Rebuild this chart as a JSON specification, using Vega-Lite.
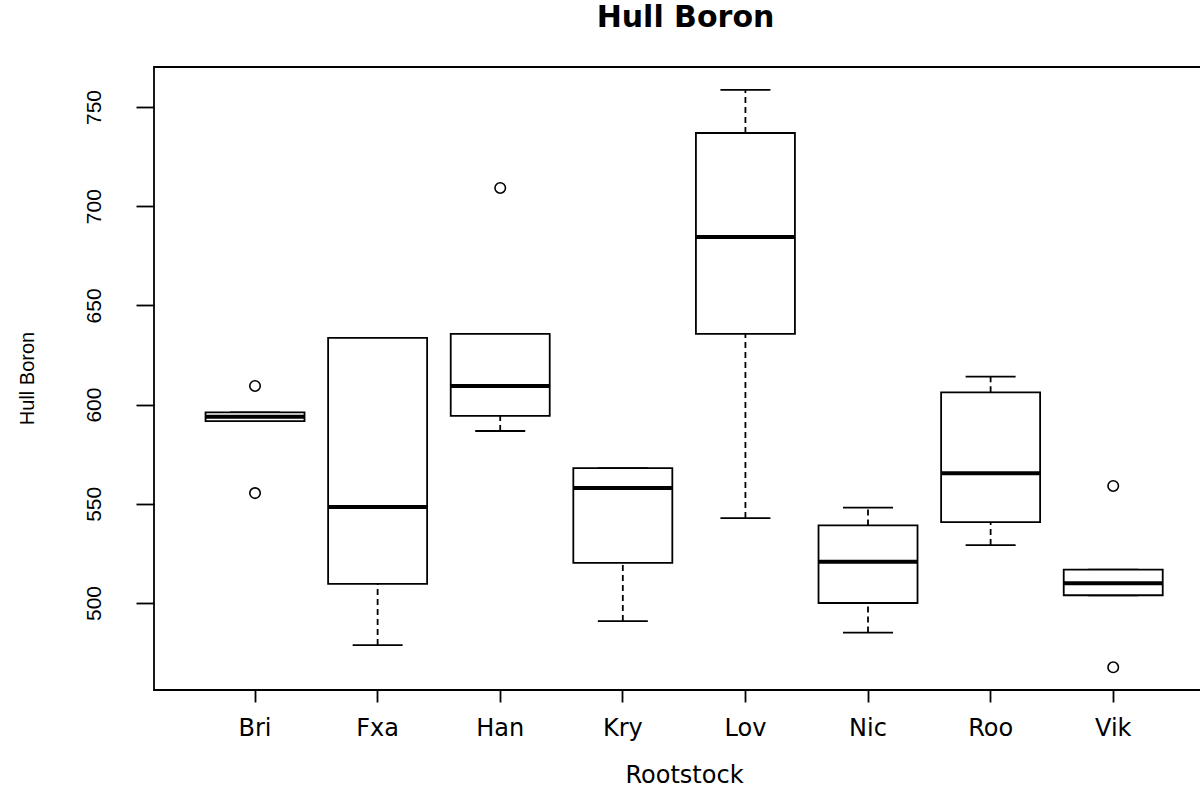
{
  "$schema": "https://vega.github.io/schema/vega-lite/v6.json",
  "width": 1047,
  "height": 623,
  "autosize": "none",
  "padding": {"left": 154, "top": 67, "right": 0, "bottom": 99},
  "background": "white",
  "config": {
    "view": {"stroke": "black", "strokeWidth": 1.8},
    "axis": {"grid": false, "domain": false, "tickColor": "black", "tickWidth": 1.8, "labelColor": "black", "titleColor": "black", "titleFontWeight": "normal"}
  },
  "title": {
    "text": "Hull Boron",
    "font": "DejaVu Sans",
    "fontSize": 30,
    "fontWeight": "bold",
    "color": "black",
    "anchor": "middle",
    "dx": 8,
    "offset": 34
  },
  "datasets": {
    "stats": [
      {"cat": "Bri", "lo": 591.7, "q1": 591.7, "med": 593.9, "q3": 596.1, "hi": 596.1},
      {"cat": "Fxa", "lo": 478.8, "q1": 509.6, "med": 548.4, "q3": 633.6, "hi": 633.6},
      {"cat": "Han", "lo": 586.7, "q1": 594.3, "med": 609.4, "q3": 635.6, "hi": 635.6},
      {"cat": "Kry", "lo": 490.9, "q1": 520.2, "med": 558.0, "q3": 568.0, "hi": 568.0},
      {"cat": "Lov", "lo": 542.8, "q1": 635.6, "med": 684.5, "q3": 736.9, "hi": 758.6},
      {"cat": "Nic", "lo": 485.1, "q1": 500.0, "med": 520.8, "q3": 539.1, "hi": 548.1},
      {"cat": "Roo", "lo": 529.2, "q1": 540.8, "med": 565.4, "q3": 606.2, "hi": 614.1},
      {"cat": "Vik", "lo": 503.9, "q1": 503.9, "med": 509.9, "q3": 516.8, "hi": 516.8}
    ],
    "out": [
      {"cat": "Bri", "value": 609.4},
      {"cat": "Bri", "value": 555.4},
      {"cat": "Han", "value": 709.2},
      {"cat": "Vik", "value": 559.0},
      {"cat": "Vik", "value": 467.6}
    ]
  },
  "encoding": {
    "x": {
      "field": "cat",
      "type": "nominal",
      "sort": ["Bri", "Fxa", "Han", "Kry", "Lov", "Nic", "Roo", "Vik"],
      "scale": {"paddingInner": 0, "paddingOuter": 0.27, "align": 0.6},
      "title": "Rootstock",
      "axis": {
        "labelAngle": 0,
        "tickSize": 12,
        "labelFont": "DejaVu Sans",
        "labelFontSize": 24,
        "labelBaseline": "alphabetic",
        "labelPadding": 33,
        "titleFont": "DejaVu Sans",
        "titleFontSize": 24,
        "titleBaseline": "alphabetic",
        "titleAlign": "center",
        "titleX": 530,
        "titleY": 92
      }
    }
  },
  "layer": [
    {
      "data": {"name": "stats"},
      "mark": {"type": "rule", "strokeDash": [6, 4], "strokeWidth": 1.8, "color": "black"},
      "encoding": {
        "y": {
          "field": "lo",
          "type": "quantitative",
          "title": "Hull Boron",
          "scale": {"domain": [456.15, 770.16], "nice": false, "zero": false},
          "axis": {
            "values": [500, 550, 600, 650, 700, 750],
            "tickSize": 18,
            "labelAngle": -90,
            "labelAlign": "center",
            "labelBaseline": "alphabetic",
            "labelPadding": 36,
            "labelFont": "Liberation Sans",
            "labelFontSize": 21,
            "titleFont": "Liberation Sans",
            "titleFontSize": 20,
            "titleAngle": -90,
            "titleAlign": "center",
            "titleBaseline": "alphabetic",
            "titleX": -121,
            "titleY": 311
          }
        },
        "y2": {"field": "q1"}
      }
    },
    {
      "data": {"name": "stats"},
      "mark": {"type": "rule", "strokeDash": [6, 4], "strokeWidth": 1.8, "color": "black"},
      "encoding": {
        "y": {"field": "q3", "type": "quantitative", "title": "Hull Boron"},
        "y2": {"field": "hi"}
      }
    },
    {
      "data": {"name": "stats"},
      "mark": {"type": "tick", "size": 50, "thickness": 1.8, "color": "black", "opacity": 1},
      "encoding": {
        "y": {"field": "lo", "type": "quantitative", "title": "Hull Boron"}
      }
    },
    {
      "data": {"name": "stats"},
      "mark": {"type": "tick", "size": 50, "thickness": 1.8, "color": "black", "opacity": 1},
      "encoding": {
        "y": {"field": "hi", "type": "quantitative", "title": "Hull Boron"}
      }
    },
    {
      "data": {"name": "stats"},
      "mark": {"type": "bar", "width": 99, "fill": "white", "stroke": "black", "strokeWidth": 1.8},
      "encoding": {
        "y": {"field": "q1", "type": "quantitative", "title": "Hull Boron"},
        "y2": {"field": "q3"}
      }
    },
    {
      "data": {"name": "stats"},
      "mark": {"type": "tick", "size": 99, "thickness": 4, "color": "black", "opacity": 1},
      "encoding": {
        "y": {"field": "med", "type": "quantitative", "title": "Hull Boron"}
      }
    },
    {
      "data": {"name": "out"},
      "mark": {"type": "point", "shape": "circle", "filled": false, "size": 110, "stroke": "black", "strokeWidth": 1.6, "opacity": 1},
      "encoding": {
        "y": {"field": "value", "type": "quantitative", "title": "Hull Boron"}
      }
    }
  ]
}
